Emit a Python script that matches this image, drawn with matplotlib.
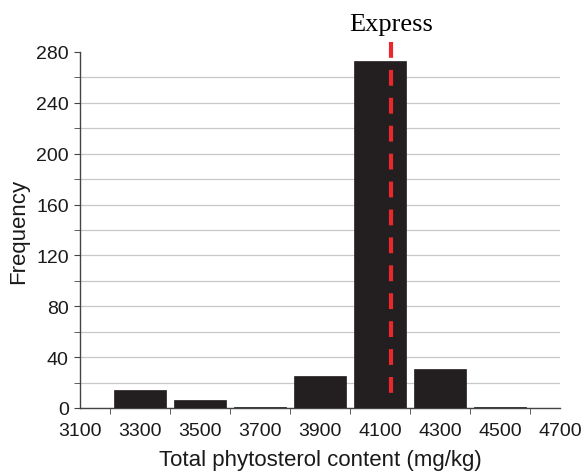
import matplotlib.pyplot as plt
from matplotlib.ticker import FixedLocator

plt.rcParams['font.family'] = 'Liberation Sans'

# bin centres and counts
centres = [3100, 3300, 3500, 3700, 3900, 4100, 4300, 4500, 4700]
counts = [0, 14, 6, 1, 25, 273, 31, 1, 0]
edges = [3200, 3400, 3600, 3800, 4000, 4200, 4400, 4600]
express = 4137

fig = plt.figure(figsize=(5.87, 4.77), dpi=100)
ax = fig.add_axes([0.136, 0.1426, 0.818, 0.7464])

ax.bar(centres, counts, width=174, color='#231f20', edgecolor='#231f20', linewidth=0.5, zorder=3)
# dashed marker drawn top-down so the dash pattern starts at the top
ax.plot([express, express], [288, 10], color='#e8282b', linestyle=(0, (3.8, 2.9)),
        linewidth=3, solid_capstyle='butt', dash_capstyle='butt', clip_on=False, zorder=4)
ax.text(express, 293, 'Express', ha='center', va='bottom', fontsize=19,
        family='Liberation Serif')

ax.set_xlim(3100, 4700)
ax.set_ylim(0, 280)
ax.xaxis.set_major_locator(FixedLocator(centres))
ax.xaxis.set_minor_locator(FixedLocator(edges))
ax.yaxis.set_major_locator(FixedLocator(range(0, 281, 40)))
ax.yaxis.set_minor_locator(FixedLocator(range(20, 281, 40)))
ax.grid(which='both', axis='y', color='#c8c8c8', linewidth=0.9, zorder=0)
# no gridline along the top
ax.yaxis.get_major_ticks()[-1].gridline.set_visible(False)

for s in ['top', 'right']:
    ax.spines[s].set_visible(False)
for s in ['left', 'bottom']:
    ax.spines[s].set_color('#444444')
    ax.spines[s].set_linewidth(1)

ax.tick_params(axis='both', which='major', labelsize=14, colors='#444444', labelcolor='#1a1a1a')
ax.tick_params(axis='x', which='major', length=0, pad=10)
ax.tick_params(axis='x', which='minor', length=4, colors='#444444')
ax.tick_params(axis='y', which='major', length=4, pad=4)
ax.tick_params(axis='y', which='minor', length=4, colors='#444444')

ax.set_xlabel('Total phytosterol content (mg/kg)', fontsize=16, color='#1a1a1a', labelpad=7)
ax.set_ylabel('Frequency', fontsize=16, color='#1a1a1a', labelpad=5)

fig.savefig('out.png', dpi=100)
